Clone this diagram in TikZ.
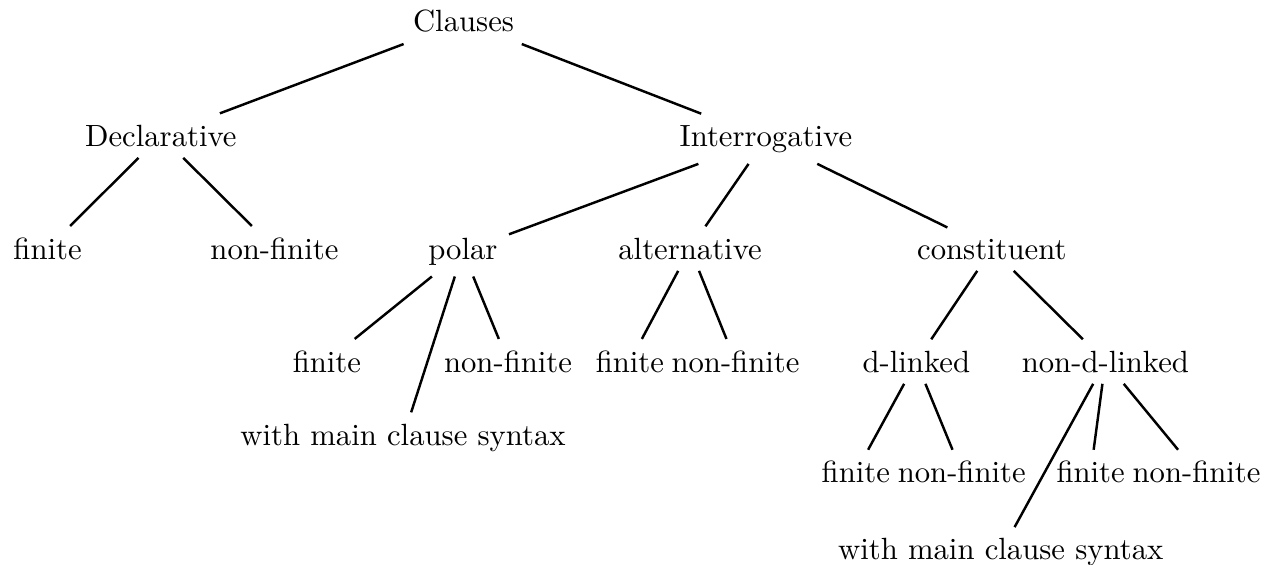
\documentclass[tikz,border=0pt]{standalone}
\usepackage{tikz}
\tikzstyle{cat}=[anchor=base]

\begin{document}
\begin{tikzpicture}[thick,x=1pt,y=1pt]
\useasboundingbox (0,0) rectangle (416,-184);
% top two levels
\node [cat] (cl) at (151.0,-10.4) {Clauses};
\node [cat] (dec) at (52.4,-47.6) {Declarative};
\node [cat] (int) at (249.5,-47.6) {Interrogative};
\node [cat] (dfin) at (15.5,-84.4) {finite};
\node [cat] (dnon) at (89.4,-84.4) {non-finite};
\node [cat] (pol) at (150.8,-84.4) {polar};
\node [cat] (alt) at (224.8,-84.4) {alternative};
\node [cat] (con) at (323.1,-84.4) {constituent};
% polar and alternative
\node [cat] (pfin) at (106.5,-121.2) {finite};
\node [cat] (pnon) at (165.5,-121.2) {non-finite};
\node [cat] (pmain) at (131.3,-145.0) {with main clause syntax};
\node [cat] (afin) at (205.2,-121.2) {finite};
\node [cat] (anon) at (239.6,-121.2) {non-finite};
% constituent
\node [cat] (dl) at (298.5,-121.2) {d-linked};
\node [cat] (ndl) at (360.1,-121.2) {non-d-linked};
\node [cat] (dlfin) at (278.8,-157.3) {finite};
\node [cat] (dlnon) at (313.3,-157.3) {non-finite};
\node [cat] (nfin) at (355.3,-157.3) {finite};
\node [cat] (nnon) at (389.8,-157.3) {non-finite};
\node [cat] (nmain) at (326.0,-182.4) {with main clause syntax};
\foreach \p/\c in {cl/dec,cl/int,dec/dfin,dec/dnon,int/pol,int/alt,int/con,
  pol/pfin,pol/pmain,pol/pnon,alt/afin,alt/anon,con/dl,con/ndl,
  dl/dlfin,dl/dlnon,ndl/nmain,ndl/nfin,ndl/nnon}
  \draw (\p) -- (\c);
\end{tikzpicture}
\end{document}
